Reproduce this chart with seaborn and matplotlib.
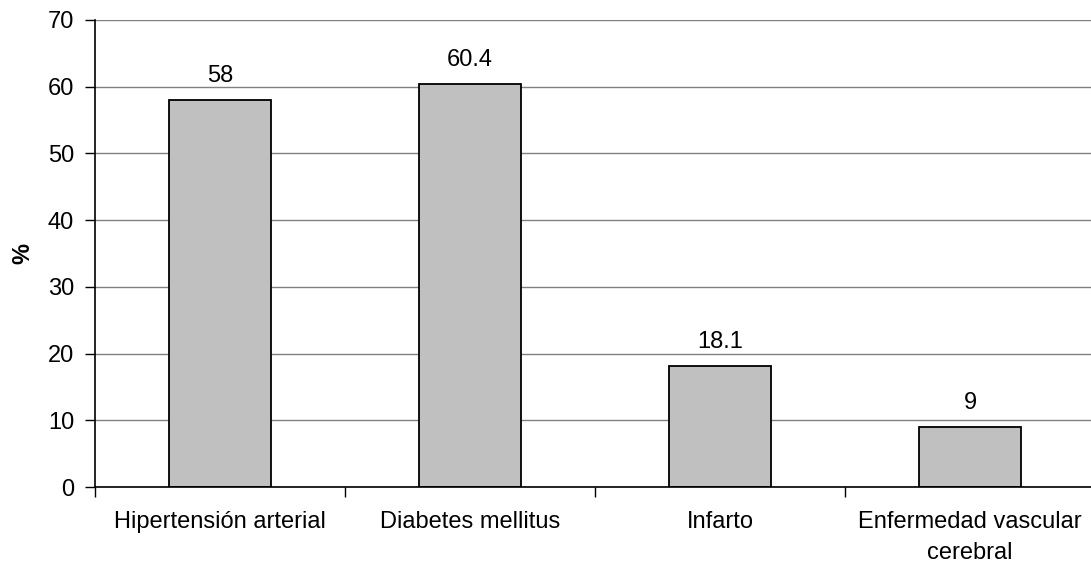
import matplotlib
matplotlib.use("Agg")
import matplotlib.pyplot as plt
import seaborn as sns
import pandas as pd

categories = ["Hipertensión arterial", "Diabetes mellitus", "Infarto",
              "Enfermedad vascular\ncerebral"]
values = [58, 60.4, 18.1, 9]
value_labels = ["58", "60.4", "18.1", "9"]
yticks = [0, 10, 20, 30, 40, 50, 60, 70]

sns.set_theme(style="white")
plt.rcParams["font.family"] = ["Liberation Sans", "DejaVu Sans"]

FS = 17

df = pd.DataFrame({"cat": categories, "val": values})

fig = plt.figure(figsize=(10.91, 5.67), dpi=100)
ax = fig.add_axes([95 / 1091, 80 / 567, 1000 / 1091, 467 / 567])

sns.barplot(data=df, x="cat", y="val", ax=ax, color="#C0C0C0",
            edgecolor="black", linewidth=1.3, width=0.41, saturation=1)

ax.set_ylim(0, 70)
ax.set_xlim(-0.5, len(categories) - 0.5)
ax.set_yticks(yticks)
ax.set_yticklabels([str(t) for t in yticks], fontsize=FS, color="black")
ax.yaxis.grid(True, color="#808080", linewidth=1)
ax.set_axisbelow(True)

ax.set_xticks(range(len(categories)))
ax.set_xticklabels(categories, fontsize=FS, color="black", linespacing=1.55)
ax.set_xticks([i - 0.5 for i in range(len(categories) + 1)], minor=True)
ax.tick_params(axis="x", which="major", length=0, pad=17)
ax.tick_params(axis="x", which="minor", length=7, width=1, color="black",
               direction="out", bottom=True)
ax.tick_params(axis="y", length=7, width=1, color="black", direction="out",
               left=True, pad=8)

for side in ["top", "right"]:
    ax.spines[side].set_visible(False)
for side in ["left", "bottom"]:
    ax.spines[side].set_color("black")
    ax.spines[side].set_linewidth(1.2)

ax.set_xlabel("")
ax.set_ylabel("%", fontsize=FS, fontweight="bold", labelpad=10, color="black")

ax.bar_label(ax.containers[0], labels=value_labels, padding=9.5, fontsize=FS,
             color="black")

fig.savefig("out.png", dpi=100)
